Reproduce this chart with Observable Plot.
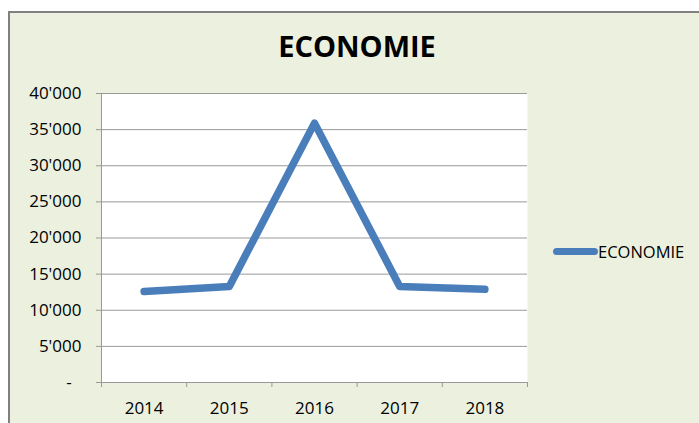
<!DOCTYPE html>
<html>
<head>
<meta charset="utf-8">
<script src="https://cdn.jsdelivr.net/npm/d3@7"></script>
<script src="https://cdn.jsdelivr.net/npm/@observablehq/plot@0.6"></script>
<style>
  html, body { margin: 0; padding: 0; background: #ffffff; width: 699px; height: 423px; overflow: hidden; }
  #frame { position: absolute; left: 8px; top: 11px; width: 720px; height: 440px; background: #EBF1DE; border-left: 2px solid #808080; border-top: 2px solid #808080; }
  #chart { position: absolute; left: 0; top: 0; }
  #title { position: absolute; left: 0; width: 714px; top: 26px; text-align: center; font-family: "Open Sans", sans-serif; font-weight: bold; font-size: 29px; color: #000; line-height: 40px; }
  #legend { position: absolute; left: 553px; top: 240px; font-family: "Open Sans", sans-serif; font-size: 16.5px; color: #000; display: flex; align-items: center; height: 22px; }
  #legend .sw { width: 45px; height: 7px; background: #4A7EBB; border-radius: 4px; margin-right: 0px; }
</style>
</head>
<body>
<div id="frame"></div>
<div id="chart"></div>
<div id="title">ECONOMIE</div>
<div id="legend"><span class="sw"></span><span>ECONOMIE</span></div>
<script>
const seriesName = "ECONOMIE";
const years = [2014, 2015, 2016, 2017, 2018];
const values = [12600, 13300, 35900, 13300, 12900];
const yTicks = [0, 5000, 10000, 15000, 20000, 25000, 30000, 35000, 40000];

const data = years.map((y, i) => ({year: y, value: values[i]}));
const bounds = [years[0] - 0.5, ...years.map(y => y + 0.5)];
const fmtY = d => d === 0 ? "-\u2007" : d3.format(",")(d).replace(/,/g, "'");

const plot = Plot.plot({
  width: 699,
  height: 423,
  marginTop: 93,
  marginLeft: 101,
  marginRight: 172,
  marginBottom: 41,
  style: {background: "transparent", fontFamily: "Open Sans, sans-serif", fontSize: "17px", color: "#000"},
  x: {domain: [bounds[0], bounds[bounds.length - 1]]},
  y: {domain: [0, 40000]},
  marks: [
    Plot.frame({fill: "white", stroke: "none"}),
    Plot.gridY(yTicks, {stroke: "#999", strokeOpacity: 1, strokeWidth: 1}),
    Plot.axisY({ticks: yTicks, tickFormat: fmtY, tickSize: 5, tickPadding: 15, stroke: "#999", label: null, fill: "#000", fontSize: 17}),
    Plot.axisX({ticks: bounds, tickFormat: () => "", tickSize: 5, stroke: "#999", label: null}),
    Plot.axisX({ticks: years, tickFormat: d => String(d), tickSize: 0, tickPadding: 19, label: null, fill: "#000", fontSize: 17}),
    Plot.ruleX([bounds[0]], {stroke: "#999"}),
    Plot.ruleY([0], {stroke: "#999"}),
    Plot.lineY(data, {x: "year", y: "value", stroke: "#4A7EBB", strokeWidth: 7.5, strokeLinecap: "round", strokeLinejoin: "round"})
  ]
});
document.getElementById("chart").appendChild(plot);
</script>
</body>
</html>
